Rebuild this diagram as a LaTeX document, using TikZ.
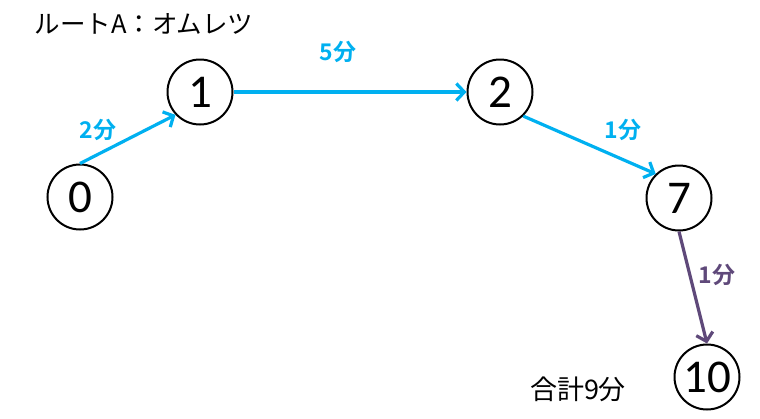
\documentclass[tikz,border=0pt]{standalone}
\usepackage{fontspec}
\setmainfont{Carlito}
\newfontfamily\cjk{Noto Sans CJK JP}[BoldFont={Noto Sans CJK JP Bold}]
\usepackage[HTML]{xcolor}
\usepackage{tikz}
\usetikzlibrary{positioning, arrows, arrows.meta}
\definecolor{routeblue}{HTML}{00B0F0}
\definecolor{routepurple}{HTML}{5F497A}

\begin{document}
\begin{tikzpicture}[x=1pt,y=-1pt,
  stop/.style={circle,draw,line width=2pt,minimum size=65pt,inner sep=0pt,font=\fontsize{47}{47}\selectfont},
  leg/.style={->,line width=3.2pt,routeblue},
  cost/.style={font=\fontsize{23}{23}\selectfont\bfseries\cjk,routeblue},
  >={Straight Barb[length=8pt,width=17pt]}]
\useasboundingbox (0,0) rectangle (760,418);
\node (s0) [stop] at (80,197) {0};
\node (s1) [stop] at (200,92) {1};
\node (s2) [stop] at (500,92) {2};
\node (s7) [stop] at (679,198) {7};
\node (s10) [stop] at (707,377) {10};
\draw[leg] (s0.north)--(s1.223);
\draw[leg] (s1.east)--(s2.west);
\draw[leg] (s2.-46)--(s7.134);
\draw[leg,routepurple] (s7.south)--(s10.north);
\node[cost] at (98,130) {2分};
\node[cost] at (338,52) {5分};
\node[cost] at (623,130) {1分};
\node[cost,routepurple] at (717,275) {1分};
\node[font=\fontsize{25.5}{25.5}\selectfont\cjk] at (144,24) {ルートA：オムレツ};
\node[font=\fontsize{27}{27}\selectfont\cjk] at (578,389) {合計9分};
\end{tikzpicture}
\end{document}
